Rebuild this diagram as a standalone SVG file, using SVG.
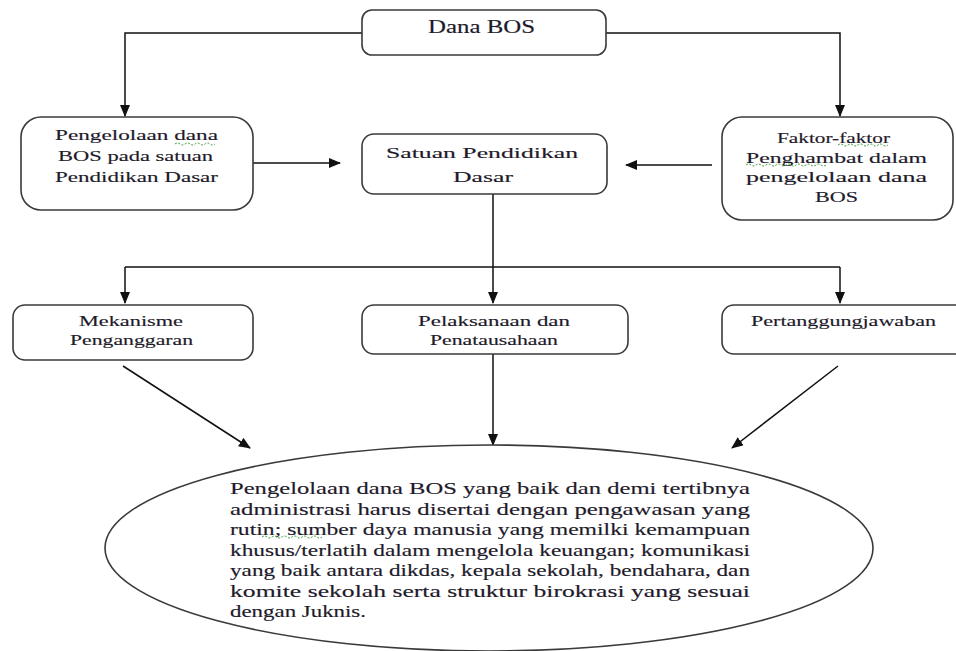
<svg xmlns="http://www.w3.org/2000/svg" width="956" height="651" viewBox="0 0 956 651">
<style>
.box{fill:#fff;stroke:#3a3a3a;stroke-width:1.6}
.t{font-family:'Liberation Serif','DejaVu Serif','Times New Roman',serif;font-size:15.5px;fill:#1e1a2a;stroke:#1e1a2a;stroke-width:0.15}
.big{font-size:18px}
.e{font-size:16.5px}
.c{fill:none;stroke:#111;stroke-width:1.5}
.sq{fill:none;stroke:#3a9a3a;stroke-width:1;stroke-dasharray:2 1.5}
</style>
<defs>
<marker id="ah" markerWidth="12" markerHeight="10" refX="11" refY="5" orient="auto" markerUnits="userSpaceOnUse">
<path d="M0,0 L12,5 L0,10 Z" fill="#111"/>
</marker>
</defs>
<rect width="956" height="651" fill="#fff"/>
<g id="connectors">
<polyline class="c" points="362,33 125,33 125,116" marker-end="url(#ah)"/>
<polyline class="c" points="606,33 840,33 840,116" marker-end="url(#ah)"/>
<line class="c" x1="253" y1="163" x2="340" y2="163" marker-end="url(#ah)"/>
<line class="c" x1="712" y1="165" x2="626" y2="165" marker-end="url(#ah)"/>
<line class="c" x1="493" y1="194" x2="493" y2="303" marker-end="url(#ah)"/>
<line class="c" x1="125" y1="267" x2="840" y2="267"/>
<line class="c" x1="125" y1="267" x2="125" y2="303" marker-end="url(#ah)"/>
<line class="c" x1="840" y1="267" x2="840" y2="303" marker-end="url(#ah)"/>
<line class="c" x1="123" y1="366" x2="250" y2="448" marker-end="url(#ah)"/>
<line class="c" x1="493" y1="354" x2="493" y2="445" marker-end="url(#ah)"/>
<line class="c" x1="838" y1="366" x2="732" y2="448" marker-end="url(#ah)"/>
</g>
<g id="dana-bos">
<rect class="box" x="362" y="10" width="244" height="45" rx="10"/>
<text class="t big" x="428" y="33" textLength="107" lengthAdjust="spacingAndGlyphs">Dana BOS</text>
</g>
<g id="pengelolaan">
<rect class="box" x="21" y="117" width="232" height="93" rx="20"/>
<text class="t" x="55" y="140" textLength="163" lengthAdjust="spacingAndGlyphs">Pengelolaan dana</text>
<text class="t" x="58" y="161" textLength="155" lengthAdjust="spacingAndGlyphs">BOS pada satuan</text>
<text class="t" x="55" y="182" textLength="163" lengthAdjust="spacingAndGlyphs">Pendidikan Dasar</text>
</g>
<g id="satuan">
<rect class="box" x="362" y="134" width="245" height="60" rx="12"/>
<text class="t" x="386" y="158" textLength="192" lengthAdjust="spacingAndGlyphs">Satuan Pendidikan</text>
<text class="t" x="453" y="182" textLength="60" lengthAdjust="spacingAndGlyphs">Dasar</text>
</g>
<g id="faktor">
<rect class="box" x="722" y="117" width="231" height="103" rx="20"/>
<text class="t" x="777" y="143" textLength="113" lengthAdjust="spacingAndGlyphs">Faktor-faktor</text>
<text class="t" x="746" y="163" textLength="181" lengthAdjust="spacingAndGlyphs">Penghambat  dalam</text>
<text class="t" x="746" y="182" textLength="181" lengthAdjust="spacingAndGlyphs">pengelolaan  dana</text>
<text class="t" x="815" y="202" textLength="43" lengthAdjust="spacingAndGlyphs">BOS</text>
</g>
<g id="mekanisme">
<rect class="box" x="13" y="305" width="240" height="55" rx="12"/>
<text class="t" x="79" y="326" textLength="104" lengthAdjust="spacingAndGlyphs">Mekanisme</text>
<text class="t" x="70" y="345" textLength="123" lengthAdjust="spacingAndGlyphs">Penganggaran</text>
</g>
<g id="pelaksanaan">
<rect class="box" x="362" y="305" width="266" height="49" rx="12"/>
<text class="t" x="418" y="326" textLength="152" lengthAdjust="spacingAndGlyphs">Pelaksanaan  dan</text>
<text class="t" x="430" y="345" textLength="128" lengthAdjust="spacingAndGlyphs">Penatausahaan</text>
</g>
<g id="pertanggungjawaban">
<rect class="box" x="722" y="305" width="250" height="49" rx="12"/>
<text class="t" x="751" y="326" textLength="185" lengthAdjust="spacingAndGlyphs">Pertanggungjawaban</text>
</g>
<g id="kesimpulan">
<ellipse class="box" cx="489" cy="548" rx="384" ry="103"/>
<text class="t e" x="230" y="494" textLength="520" lengthAdjust="spacingAndGlyphs">Pengelolaan dana BOS yang baik dan demi tertibnya</text>
<text class="t e" x="230" y="514.5" textLength="520" lengthAdjust="spacingAndGlyphs">administrasi harus disertai dengan pengawasan yang</text>
<text class="t e" x="230" y="535" textLength="520" lengthAdjust="spacingAndGlyphs">rutin;  sumber daya manusia yang memilki kemampuan</text>
<text class="t e" x="230" y="555.5" textLength="520" lengthAdjust="spacingAndGlyphs">khusus/terlatih dalam mengelola keuangan; komunikasi</text>
<text class="t e" x="230" y="576" textLength="520" lengthAdjust="spacingAndGlyphs">yang baik antara dikdas, kepala sekolah, bendahara, dan</text>
<text class="t e" x="230" y="596.5" textLength="520" lengthAdjust="spacingAndGlyphs">komite sekolah serta struktur birokrasi yang sesuai</text>
<text class="t e" x="230" y="617" textLength="136" lengthAdjust="spacingAndGlyphs">dengan Juknis.</text>
</g>
<g id="spellcheck">
<path class="sq" d="M175,144 q2.5,-2 5,0 t5,0 t5,0 t5,0 t5,0 t5,0 t5,0 t5,0"/>
<path class="sq" d="M838,145 q2.5,-2 5,0 t5,0 t5,0 t5,0 t5,0 t5,0 t5,0 t5,0 t5,0 t5,0"/>
<path class="sq" d="M746,165 q2.5,-2 5,0 t5,0 t5,0 t5,0 t5,0 t5,0 t5,0 t5,0 t5,0 t5,0 t5,0 t5,0 t5,0 t5,0 t5,0 t5,0"/>
<path class="sq" d="M262,537 q2.5,-2 5,0 t5,0 t5,0 t5,0 t5,0 t5,0 t5,0 t5,0 t5,0 t5,0 t5,0 t5,0"/>
</g>
</svg>
